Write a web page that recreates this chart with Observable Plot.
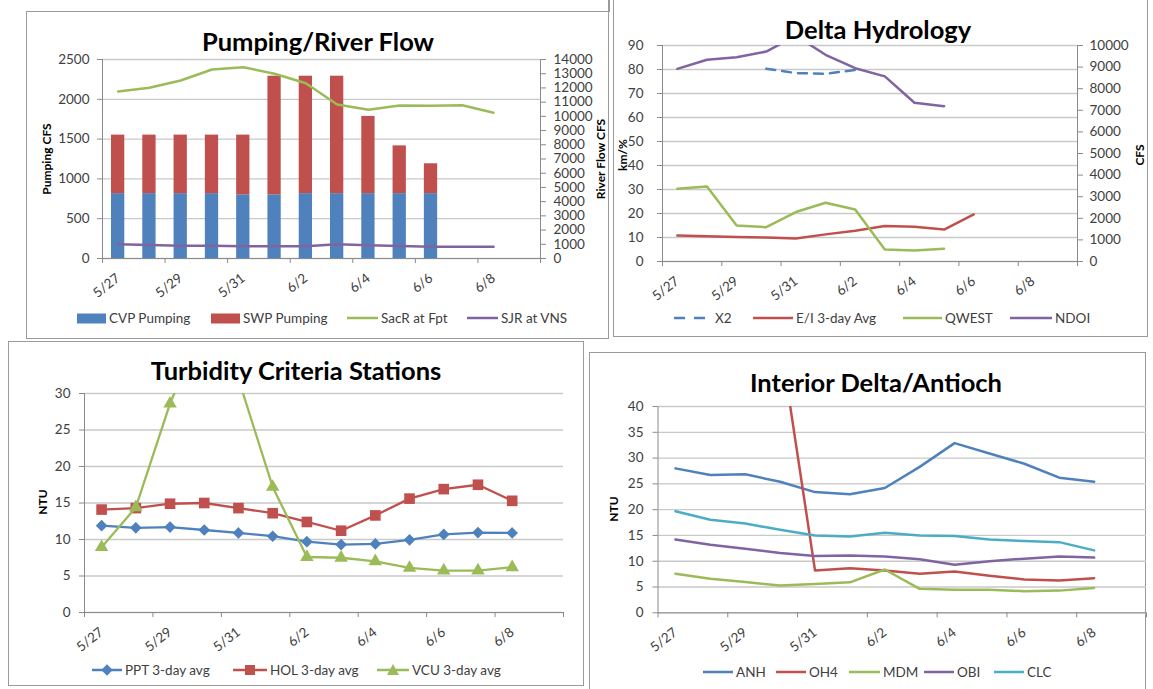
<!DOCTYPE html>
<html><head><meta charset="utf-8">
<script src="https://cdn.jsdelivr.net/npm/d3@7"></script>
<script src="https://cdn.jsdelivr.net/npm/@observablehq/plot@0.6"></script>
<style>
body{margin:0;background:#fff;}
#page{position:relative;width:1153px;height:689px;overflow:hidden;font-family:Lato,"Open Sans",sans-serif;color:#404040;background:#fff;}
.box{position:absolute;border:1.5px solid #9a9a9a;box-sizing:border-box;}
.title{position:absolute;font-weight:bold;font-size:25.5px;color:#000;transform:translate(-50%,-50%);white-space:nowrap;}
.ytitle{position:absolute;font-weight:bold;font-size:12px;color:#000;white-space:nowrap;transform:translate(-50%,-50%) rotate(-90deg);}
.item{position:absolute;display:flex;align-items:center;transform:translateY(-50%);font-size:13.5px;color:#404040;white-space:nowrap;}
.item svg{margin-right:3px;}
</style></head>
<body><div id="page"></div>
<script>
// ---------- DATA ----------
const dates = ["5/27","5/28","5/29","5/30","5/31","6/1","6/2","6/3","6/4","6/5","6/6","6/7","6/8","6/9"];

// Pumping/River Flow
const pumpTicks = [0, 500, 1000, 1500, 2000, 2500];
const riverTicks = [0,1000,2000,3000,4000,5000,6000,7000,8000,9000,10000,11000,12000,13000,14000];
const cvpPumping = [815, 815, 815, 815, 800, 800, 815, 815, 815, 815, 815];
const swpPumping = [735, 735, 735, 735, 750, 1490, 1475, 1475, 970, 600, 375];
const sacrFpt = [11750, 12010, 12520, 13300, 13460, 13000, 12330, 10830, 10460, 10760, 10740, 10780, 10250];
const sjrVns = [1000, 950, 900, 900, 870, 870, 870, 1000, 930, 880, 820, 820, 830];

// Delta Hydrology
const kmTicks = [0,10,20,30,40,50,60,70,80,90];
const cfsTicks = [0,1000,2000,3000,4000,5000,6000,7000,8000,9000,10000];
const x2 = [null, null, null, 80.3, 78.5, 78.2, 79.8];
const eiAvg = [10.8, 10.5, 10.2, 10.0, 9.6, 11.3, 12.8, 14.8, 14.5, 13.3, 19.6];
const qwest = [3370, 3470, 1670, 1590, 2290, 2720, 2410, 560, 510, 590];
const ndoi = [8920, 9340, 9460, 9720, 10450, 9570, 8950, 8570, 7350, 7190];

// Turbidity Criteria Stations
const ntuTicks3 = [0,5,10,15,20,25,30];
const ppt = [11.9, 11.6, 11.7, 11.3, 10.9, 10.45, 9.7, 9.3, 9.4, 9.95, 10.7, 10.95, 10.9];
const hol = [14.1, 14.3, 14.9, 15.0, 14.3, 13.6, 12.4, 11.2, 13.3, 15.6, 16.9, 17.5, 15.3];
const vcu = [8.95, 14.4, 28.6, 40, 32, 17.2, 7.6, 7.5, 7.0, 6.1, 5.75, 5.75, 6.2];

// Interior Delta/Antioch
const ntuTicks4 = [0,5,10,15,20,25,30,35,40];
const anh = [28.0, 26.7, 26.85, 25.4, 23.4, 23.0, 24.2, 28.3, 32.9, 30.9, 28.9, 26.2, 25.4];
const oh4 = [null, null, null, 53, 8.2, 8.66, 8.2, 7.57, 8.0, 7.2, 6.46, 6.27, 6.7];
const mdm = [7.57, 6.6, 5.95, 5.3, 5.6, 5.9, 8.4, 4.65, 4.45, 4.45, 4.2, 4.3, 4.8];
const obi = [14.2, 13.2, 12.4, 11.6, 11.0, 11.1, 10.9, 10.4, 9.3, 10.0, 10.5, 10.9, 10.7];
const clc = [19.7, 18.05, 17.3, 16.1, 15.0, 14.8, 15.5, 15.0, 14.9, 14.2, 13.9, 13.7, 12.1];

// ---------- STYLE ----------
const BLUE = "#4F81BD", RED = "#C0504D", GREEN = "#9BBB59", PURPLE = "#8064A2", CYAN = "#4BACC6";
const gridColor = "#c9c9c9", axisColor = "#8a8a8a", textColor = "#404040";
const page = document.getElementById("page");

const rows = (arr, series) => arr.map((v, i) => ({i, date: dates[i], value: v, series})).filter(d => d.value != null);
const xc = d => d.i + 0.5;
const xDomain = [0, dates.length];
const boundaryTicks = dates.map((d, i) => i).filter(i => i % 2 === 0).concat([dates.length]);
const labelPos = dates.map((d, i) => i).filter(i => i % 2 === 0 && i < dates.length - 1).map(i => i + 0.5);
const fmt = d => String(d);

function dims(rect, box) {
  return {width: box.r - box.l, height: box.b - box.t,
    marginLeft: rect.x0 - box.l, marginRight: box.r - rect.x1,
    marginTop: rect.y0 - box.t, marginBottom: box.b - rect.y1};
}
function mount(svg, box) {
  svg.style.position = "absolute"; svg.style.left = box.l + "px"; svg.style.top = box.t + "px";
  svg.style.maxWidth = "none";
  page.appendChild(svg);
}
const baseStyle = {fontFamily: "Lato, 'Open Sans', sans-serif", fontSize: "13.5px", color: textColor, background: "transparent", overflow: "visible"};

function leftFrame(yTicks, pad) {
  return [
    Plot.gridY(yTicks, {stroke: gridColor, strokeOpacity: 1, strokeWidth: 1.3}),
    Plot.ruleX([xDomain[0]], {stroke: axisColor}),
    Plot.ruleY([yTicks[0]], {stroke: axisColor}),
    Plot.axisY(yTicks, {anchor: "left", tickSize: 5, tickPadding: pad, stroke: axisColor, fill: textColor, tickFormat: fmt, label: null}),
    Plot.axisX(boundaryTicks, {anchor: "bottom", tickSize: 5, tickFormat: () => "", stroke: axisColor, label: null}),
    Plot.axisX(labelPos, {anchor: "bottom", tickSize: 0, tickPadding: 18, tickRotate: -38, tickFormat: v => dates[Math.floor(v)], fill: textColor, label: null})
  ];
}
function rightFrame(yTicks, pad) {
  return [
    Plot.ruleX([xDomain[1]], {stroke: axisColor}),
    Plot.axisY(yTicks, {anchor: "right", tickSize: 5, tickPadding: pad, stroke: axisColor, fill: textColor, tickFormat: fmt, label: null})
  ];
}
function div(cls, html, left, top, extra = {}) {
  const el = document.createElement("div");
  el.className = cls; el.innerHTML = html;
  el.style.left = left + "px"; el.style.top = top + "px";
  Object.assign(el.style, extra);
  page.appendChild(el);
  return el;
}
function boxDiv(l, t, r, b) { div("box", "", l, t, {width: (r - l) + "px", height: (b - t) + "px"}); }
const lineSw = (c, w = 30, dash = null, marker = "") =>
  `<svg width="${w}" height="14"><line x1="0" y1="7" x2="${w}" y2="7" stroke="${c}" stroke-width="2.5"${dash ? ` stroke-dasharray="${dash}"` : ""}/>${marker}</svg>`;
const rectSw = c => `<svg width="29" height="11"><rect x="0" y="0.5" width="29" height="10" fill="${c}"/></svg>`;
function legend(y, items) { for (const it of items) div("item", it.sw + `<span>${it.label}</span>`, it.x, y); }

// ---------- PANEL BORDERS ----------
boxDiv(26, 11, 609, 339);
div("box", "", 608, -2, {width: "1.5px", height: "14px", border: "none", background: "#9a9a9a"});
boxDiv(613, -2, 1148, 337);
boxDiv(8, 341, 584, 686);
boxDiv(589, 352, 1146, 700);

// ---------- PANEL 1 ----------
{
  const rect = {x0: 102, x1: 540, y0: 59, y1: 258};
  const box = {l: 30, t: 45, r: 606, b: 305};
  const pump = [...rows(cvpPumping, "CVP Pumping"), ...rows(swpPumping, "SWP Pumping")];
  const left = Plot.plot({
    ...dims(rect, box), style: baseStyle,
    x: {domain: xDomain, axis: null}, y: {domain: [0, 2500], axis: null},
    color: {domain: ["CVP Pumping", "SWP Pumping"], range: [BLUE, RED]},
    marks: [
      ...leftFrame(pumpTicks, 8),
      Plot.rectY(pump, {x: "i", interval: 1, y: "value", fill: "series", insetLeft: 9, insetRight: 9}),
      Plot.ruleY([0], {stroke: axisColor})
    ]
  });
  mount(left, box);
  const right = Plot.plot({
    ...dims(rect, box), style: baseStyle,
    x: {domain: xDomain, axis: null}, y: {domain: [0, 14000], axis: null},
    marks: [
      ...rightFrame(riverTicks, 8),
      Plot.line(rows(sacrFpt), {x: xc, y: "value", stroke: GREEN, strokeWidth: 2.5}),
      Plot.line(rows(sjrVns), {x: xc, y: "value", stroke: PURPLE, strokeWidth: 2.5})
    ]
  });
  mount(right, box);
  div("title", "Pumping/River Flow", 318, 41);
  div("ytitle", "Pumping CFS", 46, 159);
  div("ytitle", "River Flow CFS", 600, 159);
  legend(318, [
    {x: 77, label: "CVP Pumping", sw: rectSw(BLUE)},
    {x: 211, label: "SWP Pumping", sw: rectSw(RED)},
    {x: 347, label: "SacR at Fpt", sw: lineSw(GREEN, 31)},
    {x: 467, label: "SJR at VNS", sw: lineSw(PURPLE, 31)}
  ]);
}

// ---------- PANEL 2 ----------
{
  const rect = {x0: 662, x1: 1077, y0: 45, y1: 261};
  const box = {l: 616, t: 35, r: 1146, b: 305};
  const left = Plot.plot({
    ...dims(rect, box), style: baseStyle,
    x: {domain: xDomain, axis: null}, y: {domain: [0, 90], axis: null},
    marks: [
      ...leftFrame(kmTicks, 14),
      Plot.line(rows(x2), {x: xc, y: "value", stroke: BLUE, strokeWidth: 2.5, strokeDasharray: "9,7"}),
      Plot.line(rows(eiAvg), {x: xc, y: "value", stroke: RED, strokeWidth: 2.5})
    ]
  });
  mount(left, box);
  const right = Plot.plot({
    ...dims(rect, box), style: baseStyle,
    x: {domain: xDomain, axis: null}, y: {domain: [0, 10000], axis: null},
    marks: [
      ...rightFrame(cfsTicks, 7),
      Plot.line(rows(qwest), {x: xc, y: "value", stroke: GREEN, strokeWidth: 2.5}),
      Plot.line(rows(ndoi), {x: xc, y: "value", stroke: PURPLE, strokeWidth: 2.5, clip: true})
    ]
  });
  mount(right, box);
  div("title", "Delta Hydrology", 878, 29);
  div("ytitle", "km/%", 622, 155);
  div("ytitle", "CFS", 1139, 155);
  legend(318, [
    {x: 674, label: "X2", sw: lineSw(BLUE, 38, "11,9")},
    {x: 753, label: "E/I 3-day Avg", sw: lineSw(RED, 40)},
    {x: 903, label: "QWEST", sw: lineSw(GREEN, 39)},
    {x: 1010, label: "NDOI", sw: lineSw(PURPLE, 42)}
  ]);
}

// ---------- PANEL 3 ----------
{
  const rect = {x0: 84, x1: 563, y0: 393, y1: 612};
  const box = {l: 12, t: 383, r: 580, b: 655};
  const p = Plot.plot({
    ...dims(rect, box), style: baseStyle,
    x: {domain: xDomain, axis: null}, y: {domain: [0, 30], axis: null},
    marks: [
      ...leftFrame(ntuTicks3, 9),
      Plot.line(rows(ppt), {x: xc, y: "value", stroke: BLUE, strokeWidth: 2.3}),
      Plot.dot(rows(ppt), {x: xc, y: "value", fill: BLUE, symbol: "diamond2", r: 4.3, stroke: BLUE}),
      Plot.line(rows(hol), {x: xc, y: "value", stroke: RED, strokeWidth: 2.3}),
      Plot.dot(rows(hol), {x: xc, y: "value", fill: RED, symbol: "square", r: 6}),
      Plot.line(rows(vcu), {x: xc, y: "value", stroke: GREEN, strokeWidth: 2.3, clip: true}),
      Plot.dot(rows(vcu), {x: xc, y: "value", fill: GREEN, symbol: "triangle", r: 5, clip: true})
    ]
  });
  mount(p, box);
  div("title", "Turbidity Criteria Stations", 296, 370);
  div("ytitle", "NTU", 42, 502);
  const diamond = `<rect x="11" y="3" width="8" height="8" fill="${BLUE}" transform="rotate(45 15 7)"/>`;
  const square = `<rect x="12" y="2" width="10" height="10" fill="${RED}"/>`;
  const tri = `<polygon points="16,1 22,12 10,12" fill="${GREEN}"/>`;
  legend(670, [
    {x: 92, label: "PPT 3-day avg", sw: lineSw(BLUE, 30, null, diamond)},
    {x: 233, label: "HOL 3-day avg", sw: lineSw(RED, 34, null, square)},
    {x: 377, label: "VCU 3-day avg", sw: lineSw(GREEN, 32, null, tri)}
  ]);
}

// ---------- PANEL 4 ----------
{
  const rect = {x0: 657.5, x1: 1146, y0: 406, y1: 612.3};
  const box = {l: 592, t: 396, r: 1150, b: 655};
  const p = Plot.plot({
    ...dims(rect, box), style: baseStyle,
    x: {domain: xDomain, axis: null}, y: {domain: [0, 40], axis: null},
    marks: [
      ...leftFrame(ntuTicks4, 9.5),
      Plot.line(rows(anh), {x: xc, y: "value", stroke: BLUE, strokeWidth: 2.5}),
      Plot.line(rows(oh4), {x: xc, y: "value", stroke: RED, strokeWidth: 2.5, clip: true}),
      Plot.line(rows(mdm), {x: xc, y: "value", stroke: GREEN, strokeWidth: 2.5}),
      Plot.line(rows(obi), {x: xc, y: "value", stroke: PURPLE, strokeWidth: 2.5}),
      Plot.line(rows(clc), {x: xc, y: "value", stroke: CYAN, strokeWidth: 2.5})
    ]
  });
  mount(p, box);
  div("title", "Interior Delta/Antioch", 876, 382);
  div("ytitle", "NTU", 613, 509);
  legend(672, [
    {x: 703, label: "ANH", sw: lineSw(BLUE, 30)},
    {x: 776, label: "OH4", sw: lineSw(RED, 30)},
    {x: 849, label: "MDM", sw: lineSw(GREEN, 31)},
    {x: 924, label: "OBI", sw: lineSw(PURPLE, 30)},
    {x: 994, label: "CLC", sw: lineSw(CYAN, 30)}
  ]);
}
</script></body></html>
